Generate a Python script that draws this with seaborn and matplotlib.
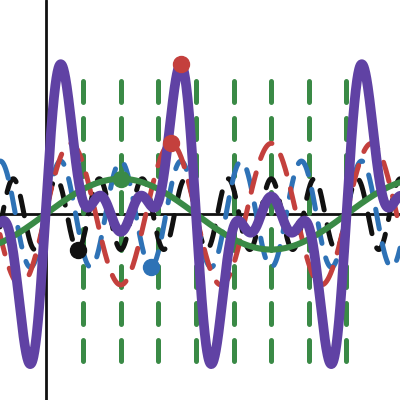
import numpy as np
import pandas as pd
import matplotlib
matplotlib.use("Agg")
import matplotlib.pyplot as plt
import seaborn as sns

# harmonic components (frequency, amplitude)
harmonics = [7, 5, 3, 1]
amplitudes = [1.0, 1.5, 2.0, 1.0]
colors = ["#111111", "#2e72b6", "#c4403d", "#3a8a46"]
styles = ["dashed", "dashed", "dashed", "solid"]

# vertical guide positions (multiples of pi/4) and their extent
guide_x = [np.pi / 4 * k for k in range(1, 9)]
guide_bottom, guide_top = -4.16, 3.79

# marked points: x position and which curve they sit on
marker_x = [0.673, 1.571, 2.199, 2.618, 2.829]
marker_curve = ["h7", "h1", "h5", "h3", "sum"]
marker_color = ["#111111", "#3a8a46", "#2e72b6", "#c4403d", "#c4403d"]

sns.set_style("white")
plt.rcParams["lines.dash_capstyle"] = "round"
plt.rcParams["lines.solid_capstyle"] = "round"

x = np.linspace(-0.95, 7.45, 1200)
df = pd.DataFrame({"x": x})
for h, a in zip(harmonics, amplitudes):
    df[f"h{h}"] = a * np.sin(h * x)
df["sum"] = df[[f"h{h}" for h in harmonics]].sum(axis=1)

fig = plt.figure(figsize=(4, 4), dpi=100)
ax = fig.add_axes([0, 0, 1, 1])

# zero lines
ax.axhline(0, color="#111111", lw=2.0, zorder=1)
ax.axvline(0, color="#111111", lw=2.0, zorder=1)

# dashed vertical guides
ax.vlines(guide_x, guide_bottom, guide_top, color="#3a8a46", lw=3.6,
          linestyles=[(0, (4.2, 3.2))], zorder=1.5)
for coll in ax.collections:
    coll.set_capstyle("round")

dash = (0, (4.0, 3.0))
for h, c, s in zip(harmonics, colors, styles):
    sns.lineplot(data=df, x="x", y=f"h{h}", color=c, ax=ax,
                 linewidth=4.4 if s == "solid" else 3.6,
                 linestyle=dash if s == "dashed" else "-", zorder=2)

sns.lineplot(data=df, x="x", y="sum", color="#6042a4", linewidth=7.0, ax=ax, zorder=3)

# markers
mx = np.array(marker_x)
my = [np.interp(px, df["x"], df[col]) for px, col in zip(mx, marker_curve)]
for px, py, c in zip(mx, my, marker_color):
    ax.plot(px, py, "o", color=c, markersize=11.5, zorder=4)

ax.set_xlim(-0.95, 7.40)
ax.set_ylim(-5.25, 6.05)
ax.set_axis_off()

fig.savefig("out.png", dpi=100, facecolor="white")
